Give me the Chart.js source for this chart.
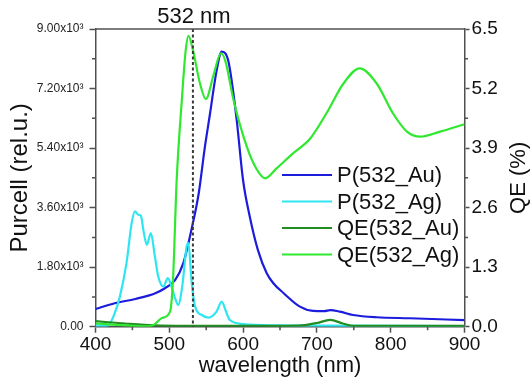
<!DOCTYPE html>
<html>
<head>
<meta charset="utf-8">
<script src="https://cdn.jsdelivr.net/npm/chart.js@4"></script>
<style>
  html, body { margin: 0; padding: 0; background: #fff; }
  #wrap { width: 530px; height: 382px; }
</style>
</head>
<body>
<div id="wrap"><canvas id="chart"></canvas></div>
<script>
// Purcell factor, Au (left axis)
const auWl = [400, 426, 454, 481, 494, 508, 519, 530, 540, 548, 555, 564, 571, 580, 591, 600, 609, 620, 632, 641, 655, 677, 695, 710, 718, 731, 749, 781, 826, 900];
const auPurcell = [536, 709, 839, 1012, 1163, 1415, 1921, 2930, 4050, 5400, 6415, 7727, 8314, 8030, 6315, 4420, 3333, 2324, 1618, 1315, 1012, 606, 476, 470, 500, 455, 354, 285, 255, 200];

// Purcell factor, Ag (left axis)
const agWl = [400, 417, 426, 433, 442, 449, 453.5, 458, 461.5, 465, 469.5, 475, 480.5, 485, 492, 498, 503, 508, 512, 517.5, 523.5, 526, 530, 535, 544, 553, 564, 571, 577, 582, 600, 650, 700, 900];
const agPurcell = [30, 40, 406, 909, 1921, 3133, 3485, 3385, 3354, 2900, 2476, 2830, 2121, 1515, 1212, 1466, 1212, 850, 658, 1212, 2424, 2527, 1415, 606, 354, 273, 455, 758, 450, 203, 82, 40, 30, 20];

// quantum efficiency, Au (right axis, %)
const qeAuWl = [400, 440, 480, 520, 600, 650, 680, 700, 718, 735, 750, 800, 900];
const qeAu = [0.12, 0.07, 0.03, 0.02, 0.02, 0.02, 0.03, 0.08, 0.15, 0.07, 0.02, 0.02, 0.02];

// quantum efficiency, Ag (right axis, %)
const qeAgWl = [400, 440, 470, 480, 490, 501, 505, 510, 517, 522, 526, 532, 541.6, 549.5, 560, 570, 576, 587, 605, 618, 630, 645, 668, 691, 713, 736, 758, 781, 803, 822, 840, 867, 900];
const qeAg = [0.07, 0.03, 0.01, 0.05, 0.19, 0.33, 1.02, 3.2, 4.95, 6.0, 6.35, 6.04, 5.31, 4.97, 5.5, 5.97, 5.8, 4.95, 3.93, 3.45, 3.24, 3.45, 3.79, 4.11, 4.66, 5.31, 5.64, 5.31, 4.66, 4.26, 4.15, 4.26, 4.42];

const wlTicks = [400, 500, 600, 700, 800, 900];
const purcellTicks = [0, 1800, 3600, 5400, 7200, 9000];
const qeTicks = [0, 1.3, 2.6, 3.9, 5.2, 6.5];
const laserWl = 532;

const FONT = "'Liberation Sans', Arial, sans-serif";
const AXIS = '#505050';

function pts(xs, ys) {
  return xs.map((x, i) => ({ x: x, y: ys[i] }));
}

function fixTicks(arr) {
  return function (scale) {
    scale.ticks = arr.map(v => ({ value: v }));
  };
}

// frame, minor ticks, 532 nm marker, legend and right title
const decor = {
  id: 'decor',
  afterDatasetsDraw(chart) {
    const { ctx, chartArea: a, scales } = chart;
    const x = scales.x.getPixelForValue(laserWl);
    ctx.save();
    ctx.strokeStyle = '#3a3a3a';
    ctx.lineWidth = 2;
    ctx.setLineDash([3, 2.5]);
    ctx.beginPath();
    ctx.moveTo(x, a.top);
    ctx.lineTo(x, a.bottom);
    ctx.stroke();
    ctx.restore();
  },
  afterDraw(chart) {
    const { ctx, chartArea: a, scales } = chart;
    ctx.save();
    ctx.strokeStyle = AXIS;
    ctx.lineWidth = 1.5;
    ctx.beginPath();
    ctx.moveTo(a.left, a.top);
    ctx.lineTo(a.right, a.top);
    ctx.stroke();

    // minor ticks halfway between the major ones
    ctx.beginPath();
    for (let i = 0; i < wlTicks.length - 1; i++) {
      const px = scales.x.getPixelForValue((wlTicks[i] + wlTicks[i + 1]) / 2);
      ctx.moveTo(px, a.bottom);
      ctx.lineTo(px, a.bottom + 3.5);
    }
    for (let i = 0; i < purcellTicks.length - 1; i++) {
      const py = scales.y.getPixelForValue((purcellTicks[i] + purcellTicks[i + 1]) / 2);
      ctx.moveTo(a.left, py);
      ctx.lineTo(a.left - 3.5, py);
    }
    for (let i = 0; i < qeTicks.length - 1; i++) {
      const py = scales.y2.getPixelForValue((qeTicks[i] + qeTicks[i + 1]) / 2);
      ctx.moveTo(a.right, py);
      ctx.lineTo(a.right + 3.5, py);
    }
    ctx.stroke();

    ctx.fillStyle = '#111';
    ctx.font = '22px ' + FONT;
    ctx.textAlign = 'center';
    ctx.textBaseline = 'alphabetic';
    ctx.fillText(laserWl + ' nm', scales.x.getPixelForValue(laserWl) + 1, 23);

    // right axis title, reads bottom to top
    ctx.save();
    ctx.translate(518.5, (a.top + a.bottom) / 2);
    ctx.rotate(-Math.PI / 2);
    ctx.textBaseline = 'middle';
    ctx.fillText('QE (%)', 0, 0);
    ctx.restore();

    // legend
    ctx.textAlign = 'left';
    ctx.textBaseline = 'middle';
    chart.data.datasets.forEach((ds, i) => {
      const y = 175 + i * 26.5;
      ctx.strokeStyle = ds.borderColor;
      ctx.lineWidth = 2;
      ctx.beginPath();
      ctx.moveTo(282, y);
      ctx.lineTo(332, y);
      ctx.stroke();
      ctx.fillStyle = '#111';
      ctx.fillText(ds.label, 337, y + 1);
    });
    ctx.restore();
  }
};

new Chart(document.getElementById('chart'), {
  type: 'line',
  data: {
    datasets: [
      { label: 'P(532_Au)', data: pts(auWl, auPurcell), yAxisID: 'y', borderColor: '#1c1cdc', order: 4 },
      { label: 'P(532_Ag)', data: pts(agWl, agPurcell), yAxisID: 'y', borderColor: '#2ee6f0', order: 3 },
      { label: 'QE(532_Au)', data: pts(qeAuWl, qeAu), yAxisID: 'y2', borderColor: '#228b22', order: 2 },
      { label: 'QE(532_Ag)', data: pts(qeAgWl, qeAg), yAxisID: 'y2', borderColor: '#2fe82f', order: 1 },
    ],
  },
  options: {
    responsive: true,
    maintainAspectRatio: false,
    animation: false,
    layout: { padding: { top: 29 } },
    elements: {
      point: { radius: 0 },
      line: { borderWidth: 2.2, cubicInterpolationMode: 'monotone' },
    },
    plugins: { legend: { display: false }, tooltip: { enabled: false } },
    scales: {
      x: {
        type: 'linear',
        min: 400,
        max: 900,
        afterBuildTicks: fixTicks(wlTicks),
        afterFit(scale) { scale.height = 55.3; },
        grid: { drawOnChartArea: false, tickLength: 6, tickColor: AXIS, tickWidth: 1.5 },
        border: { color: AXIS, width: 1.5 },
        ticks: { color: '#111', padding: 1, font: { family: FONT, size: 19 } },
        title: {
          display: true, text: 'wavelength (nm)', color: '#111',
          font: { family: FONT, size: 22, lineHeight: 1 }, padding: { top: 0, bottom: 5 },
        },
      },
      y: {
        position: 'left',
        min: 0,
        max: 9000,
        afterBuildTicks: fixTicks(purcellTicks),
        afterFit(scale) { scale.width = 95.5; },
        grid: { drawOnChartArea: false, tickLength: 6, tickColor: AXIS, tickWidth: 1.5 },
        border: { color: AXIS, width: 1.5 },
        ticks: {
          color: '#222', padding: 6, font: { family: FONT, size: 12 },
          callback: v => v === 0 ? '0.00' : (v / 1000).toFixed(2) + 'x10\u00b3',
        },
        title: {
          display: true, text: 'Purcell (rel.u.)', color: '#111',
          font: { family: FONT, size: 24, lineHeight: 1 }, padding: { top: 8, bottom: 0 },
        },
      },
      y2: {
        position: 'right',
        min: 0,
        max: 6.5,
        afterBuildTicks: fixTicks(qeTicks),
        afterFit(scale) { scale.width = 65.5; },
        grid: { drawOnChartArea: false, tickLength: 5, tickColor: AXIS, tickWidth: 1.5 },
        border: { color: AXIS, width: 1.5 },
        ticks: {
          color: '#111', padding: 2, font: { family: FONT, size: 19 },
          callback: v => v.toFixed(1),
        },
      },
    },
  },
  plugins: [decor],
});
</script>
</body>
</html>
